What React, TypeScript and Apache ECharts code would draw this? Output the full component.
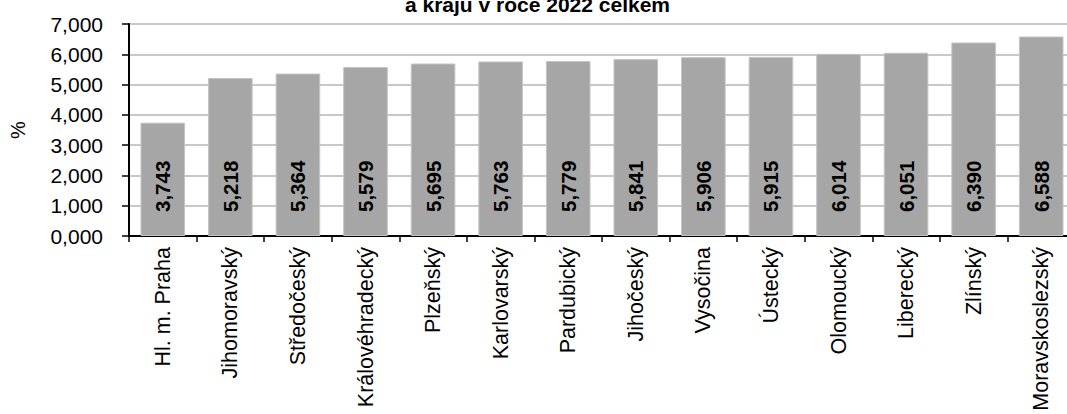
import React, { useEffect, useRef } from "react";
import * as echarts from "echarts";

const categories = [
  "Hl. m. Praha",
  "Jihomoravský",
  "Středočeský",
  "Královéhradecký",
  "Plzeňský",
  "Karlovarský",
  "Pardubický",
  "Jihočeský",
  "Vysočina",
  "Ústecký",
  "Olomoucký",
  "Liberecký",
  "Zlínský",
  "Moravskoslezský",
];

const values = [3.743, 5.218, 5.364, 5.579, 5.695, 5.763, 5.779, 5.841, 5.906, 5.915, 6.014, 6.051, 6.39, 6.588];

const titleText = "a kraju v roce 2022 celkem";
const yAxisName = "%";

const fmt = (v: number) => v.toFixed(3).replace(".", ",");
const FONT = "'Liberation Sans', Arial, sans-serif";

export default function App() {
  const ref = useRef<HTMLDivElement>(null);
  useEffect(() => {
    if (!ref.current) return;
    const chart = echarts.init(ref.current, undefined, { renderer: "svg" });
    chart.setOption({
      animation: false,
      title: {
        text: titleText,
        left: "center",
        top: -11,
        textStyle: { fontFamily: FONT, fontSize: 21, fontWeight: "bold", color: "#000" },
      },
      grid: {
        left: 124,
        right: 0,
        top: 24,
        bottom: 414 - 236,
        show: true,
        borderColor: "#000",
        borderWidth: 2,
      },
      xAxis: {
        type: "category",
        data: categories,
        axisLine: { lineStyle: { color: "#000", width: 2 } },
        axisTick: { show: true, length: 6, lineStyle: { color: "#000", width: 1.5 } },
        axisLabel: {
          rotate: 90,
          margin: 11,
          fontFamily: FONT,
          fontSize: 21.5,
          color: "#000",
          interval: 0,
        },
      },
      yAxis: {
        type: "value",
        min: 0,
        max: 7,
        interval: 1,
        name: yAxisName,
        nameLocation: "middle",
        nameGap: 101,
        nameTextStyle: { fontFamily: FONT, fontSize: 20, color: "#000" },
        axisLine: { show: true, lineStyle: { color: "#000", width: 2 } },
        axisTick: { show: true, length: 7, lineStyle: { color: "#000", width: 1.5 } },
        axisLabel: {
          formatter: (v: number) => fmt(v),
          margin: 26,
          fontFamily: FONT,
          fontSize: 21,
          color: "#000",
        },
        splitLine: { lineStyle: { color: "#c8c8c8", width: 2 } },
      },
      series: [
        {
          type: "bar",
          data: values,
          barWidth: "66%",
          itemStyle: { color: "#a6a6a6", borderColor: "#c4c4c4", borderWidth: 1 },
          label: {
            show: true,
            position: "insideBottom",
            rotate: 90,
            align: "left",
            verticalAlign: "middle",
            distance: 24,
            formatter: (p: any) => fmt(p.value),
            fontFamily: FONT,
            fontSize: 20.5,
            fontWeight: "bold",
            color: "#000",
          },
        },
      ],
    });
    return () => chart.dispose();
  }, []);
  return (
    <div style={{ position: "absolute", left: 0, top: 0, width: 1067, height: 414, overflow: "hidden" }}>
      <div ref={ref} style={{ width: 1075, height: 414 }} />
    </div>
  );
}
